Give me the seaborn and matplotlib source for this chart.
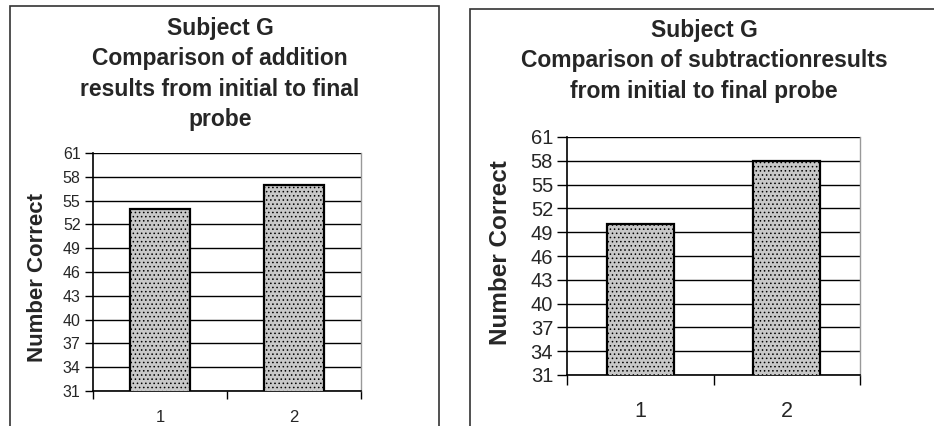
import numpy as np
import pandas as pd
import seaborn as sns
import matplotlib.pyplot as plt
from matplotlib.patches import Rectangle

# data
probes = ["1", "2"]
addition_correct = [54, 57]
subtraction_correct = [50, 58]
y_ticks = list(range(31, 62, 3))

title_add = "Subject G\nComparison of addition\nresults from initial to final\nprobe"
title_sub = "Subject G\nComparison of subtractionresults\nfrom initial to final probe"

sns.set_theme(style="white")
plt.rcParams['font.family'] = ['Liberation Sans', 'DejaVu Sans']
plt.rcParams['hatch.color'] = "#a0a0a0"
plt.rcParams['hatch.linewidth'] = 0.6

W, H = 934, 426
fig = plt.figure(figsize=(W / 100, H / 100), dpi=100)
fig.patch.set_facecolor("white")


def px_axes(x0, y0, x1, y1):
    return fig.add_axes([x0 / W, 1 - y1 / H, (x1 - x0) / W, (y1 - y0) / H])


def draw_panel(ax, values, tick_size, xtick_size, bar_w, tlen, xpad):
    df = pd.DataFrame({"probe": probes, "correct": values})
    sns.barplot(data=df, x="probe", y="correct", ax=ax, color="#c8c8c8",
                width=bar_w, edgecolor="black", linewidth=1.6, saturation=1)
    for p in ax.patches:
        p.set_hatch("....")
        p.set_zorder(3)
    ax.set_ylim(31, 61)
    ax.set_xlim(-0.5, 1.5)
    ax.set_yticks(y_ticks)
    ax.set_yticklabels([str(t) for t in y_ticks], fontsize=tick_size)
    ax.yaxis.grid(True, color="black", linewidth=1.0)
    ax.set_axisbelow(True)
    ax.tick_params(axis="y", direction="out", length=tlen, width=1,
                   color="black", left=True, pad=3)
    ax.tick_params(axis="x", length=0, labelsize=xtick_size, pad=xpad)
    ax.set_xticks([-0.5, 0.5, 1.5], minor=True)
    ax.tick_params(axis="x", which="minor", direction="out", length=tlen,
                   width=1, color="black", bottom=True)
    ax.set_xlabel("")
    ax.set_ylabel("")
    for s in ["left", "bottom"]:
        ax.spines[s].set_color("black")
        ax.spines[s].set_linewidth(1.2)
    ax.spines["top"].set_visible(False)
    ax.spines["right"].set_color("#999999")
    ax.spines["right"].set_linewidth(1.0)


ax1 = px_axes(93, 153, 361, 391)
draw_panel(ax1, addition_correct, 11.5, 12, 0.45, 6, 14)
ax2 = px_axes(567, 137, 860, 375)
draw_panel(ax2, subtraction_correct, 14.5, 15.5, 0.46, 7, 19)

# panel frames
fig.patches.append(Rectangle((10 / W, -0.1), 429 / W, 1.1 - 6 / H,
                             transform=fig.transFigure, fill=False,
                             edgecolor="#333333", linewidth=1.2))
fig.patches.append(Rectangle((470 / W, -0.1), 0.6, 1.1 - 9 / H,
                             transform=fig.transFigure, fill=False,
                             edgecolor="#333333", linewidth=1.2))

fig.text(220 / W, 1 - 74 / H, title_add, ha="center", va="center",
         fontsize=16.5, fontweight="bold", linespacing=1.42)
fig.text(704 / W, 1 - 61 / H, title_sub, ha="center", va="center",
         fontsize=16.5, fontweight="bold", linespacing=1.42)

fig.text(38 / W, 1 - 277 / H, "Number Correct", rotation=90, ha="center",
         va="center", fontsize=16, fontweight="bold")
fig.text(500 / W, 1 - 253 / H, "Number Correct", rotation=90, ha="center",
         va="center", fontsize=17.5, fontweight="bold")

fig.savefig("out.png", dpi=100)
plt.close(fig)
